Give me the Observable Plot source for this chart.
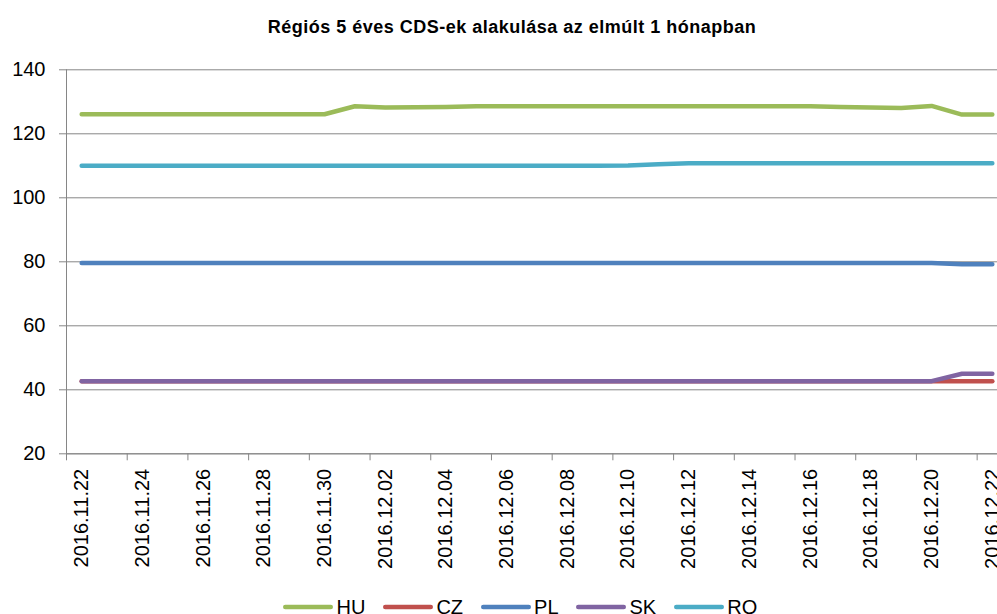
<!DOCTYPE html>
<html><head><meta charset="utf-8">
<script src="https://cdn.jsdelivr.net/npm/d3@7"></script>
<script src="https://cdn.jsdelivr.net/npm/@observablehq/plot@0.6"></script>
<style>
html,body{margin:0;padding:0;background:#fff;overflow:hidden;}
body{width:997px;height:614px;position:relative;font-family:"Liberation Sans",Arial,sans-serif;color:#000;}
#title{height:50px;line-height:54px;text-align:center;font-weight:bold;font-size:18px;letter-spacing:0.5px;padding-left:27px;white-space:nowrap;}
#chart svg{display:block;}
#legend{position:absolute;left:0;top:594px;width:997px;height:26px;display:flex;justify-content:flex-start;align-items:center;padding-left:283px;box-sizing:border-box;font-size:20px;}
.item{display:flex;align-items:center;margin-right:17.5px;}
.item svg{margin-right:3.5px;}
</style></head>
<body>
<div id="title">Régiós 5 éves CDS-ek alakulása az elmúlt 1 hónapban</div>
<div id="chart"></div>
<div id="legend"></div>
<script>
const dates = ["2016.11.22","2016.11.23","2016.11.24","2016.11.25","2016.11.26","2016.11.27","2016.11.28","2016.11.29","2016.11.30",
  "2016.12.01","2016.12.02","2016.12.03","2016.12.04","2016.12.05","2016.12.06","2016.12.07","2016.12.08","2016.12.09","2016.12.10",
  "2016.12.11","2016.12.12","2016.12.13","2016.12.14","2016.12.15","2016.12.16","2016.12.17","2016.12.18","2016.12.19","2016.12.20",
  "2016.12.21","2016.12.22"];
const series = ["HU","CZ","PL","SK","RO"];
const colors = ["#9BBB59","#C0504D","#4F81BD","#8064A2","#4BACC6"];
const HU = [126.1,126.1,126.1,126.1,126.1,126.1,126.1,126.1,126.1,
  128.6,128.2,128.3,128.4,128.6,128.6,128.6,128.6,128.6,128.6,
  128.6,128.6,128.6,128.6,128.6,128.6,128.4,128.2,128.1,128.7,
  126.0,126.0];
const CZ = [42.7,42.7,42.7,42.7,42.7,42.7,42.7,42.7,42.7,
  42.7,42.7,42.7,42.7,42.7,42.7,42.7,42.7,42.7,42.7,
  42.7,42.7,42.7,42.7,42.7,42.7,42.7,42.7,42.7,42.7,
  42.7,42.7];
const PL = [79.6,79.6,79.6,79.6,79.6,79.6,79.6,79.6,79.6,
  79.6,79.6,79.6,79.6,79.6,79.6,79.6,79.6,79.6,79.6,
  79.6,79.6,79.6,79.6,79.6,79.6,79.6,79.6,79.6,79.6,
  79.2,79.2];
const SK = [42.7,42.7,42.7,42.7,42.7,42.7,42.7,42.7,42.7,
  42.7,42.7,42.7,42.7,42.7,42.7,42.7,42.7,42.7,42.7,
  42.7,42.7,42.7,42.7,42.7,42.7,42.7,42.7,42.7,42.7,
  45.0,45.0];
const RO = [110.0,110.0,110.0,110.0,110.0,110.0,110.0,110.0,110.0,
  110.0,110.0,110.0,110.0,110.0,110.0,110.0,110.0,110.0,110.1,
  110.5,110.8,110.8,110.8,110.8,110.8,110.8,110.8,110.8,110.8,
  110.8,110.8];
const yTicks = [20,40,60,80,100,120,140];

const values = [HU, CZ, PL, SK, RO];
const parse = d3.utcParse("%Y.%m.%d");
const fmt = d3.utcFormat("%Y.%m.%d");
const xs = dates.map(parse);
const half = 12 * 3600 * 1000;
const rows = [];
series.forEach((s, k) => values[k].forEach((v, i) => rows.push({series: s, date: xs[i], value: v})));
const labelDates = xs.filter((d, i) => i % 2 === 0);
const boundaries = labelDates.map(d => new Date(+d - half));
const x0 = new Date(+xs[0] - half);
const x1 = new Date(+xs[xs.length - 1] + half);

const chart = Plot.plot({
  width: 997, height: 540,
  marginLeft: 66, marginRight: -10, marginTop: 19.3, marginBottom: 136.7,
  style: {fontFamily: "Liberation Sans, Arial, sans-serif", fontSize: "20px", color: "#000", background: "#fff", overflow: "hidden"},
  x: {type: "utc", domain: [x0, x1], axis: null},
  y: {domain: [20, 140], axis: null},
  color: {domain: series, range: colors},
  marks: [
    Plot.gridY(yTicks, {stroke: "#868686", strokeOpacity: 1}),
    Plot.axisY(yTicks, {tickSize: 7, tickPadding: 14, stroke: "#868686", fill: "#000", fontSize: 20, label: null}),
    Plot.axisX(boundaries, {tickSize: 7, tickFormat: () => "", stroke: "#868686", label: null}),
    Plot.axisX(labelDates, {tickSize: 0, tickPadding: 15, tickRotate: -90, tickFormat: fmt, fill: "#000", fontSize: 20, label: null}),
    Plot.ruleX([x0], {stroke: "#868686"}),
    Plot.ruleY([20], {stroke: "#868686"}),
    Plot.lineY(rows, {x: "date", y: "value", z: "series", stroke: "series", strokeWidth: 4.5, strokeLinecap: "round", strokeLinejoin: "round"})
  ]
});
document.getElementById("chart").appendChild(chart);

const legend = document.getElementById("legend");
series.forEach((s, k) => {
  const item = document.createElement("div");
  item.className = "item";
  item.innerHTML = `<svg width="50" height="10"><line x1="2.25" x2="47.75" y1="5" y2="5" stroke="${colors[k]}" stroke-width="4.5" stroke-linecap="round"/></svg><span>${s}</span>`;
  legend.appendChild(item);
});
</script>
</body></html>
